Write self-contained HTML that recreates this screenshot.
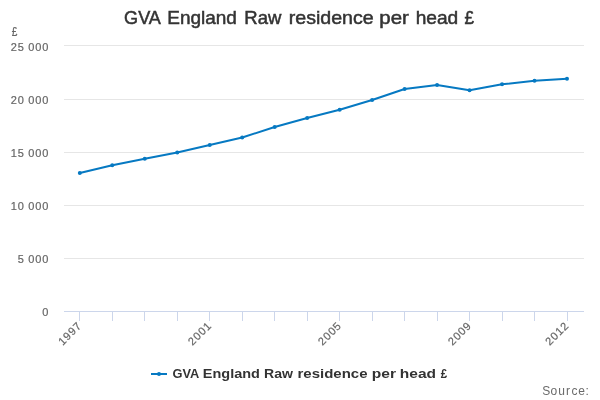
<!DOCTYPE html>
<html><head><meta charset="utf-8"><style>
html,body{margin:0;padding:0;background:#fff;}
svg{display:block;will-change:transform;font-family:"Liberation Sans",sans-serif;}
</style></head><body>
<svg width="600" height="400" viewBox="0 0 600 400">
<rect width="600" height="400" fill="#ffffff"/>
<g font-size="18.5" fill="#333333" stroke="#333333" stroke-width="0.5"><text x="124.1" y="23.5" textLength="36.84" lengthAdjust="spacingAndGlyphs">GVA</text><text x="167.23" y="23.5" textLength="69.71" lengthAdjust="spacingAndGlyphs">England</text><text x="244.27" y="23.5" textLength="37.04" lengthAdjust="spacingAndGlyphs">Raw</text><text x="288.73" y="23.5" textLength="84.97" lengthAdjust="spacingAndGlyphs">residence</text><text x="379.37" y="23.5" textLength="29.54" lengthAdjust="spacingAndGlyphs">per</text><text x="415.66" y="23.5" textLength="42.58" lengthAdjust="spacingAndGlyphs">head</text><text x="464.49" y="23.5" textLength="9.54" lengthAdjust="spacingAndGlyphs">£</text></g>
<path d="M64 45.5 H584 M64 99.5 H584 M64 152.5 H584 M64 205.5 H584 M64 258.5 H584 " stroke="#e6e6e6" stroke-width="1" fill="none"/>
<path d="M64 311.5 H584" stroke="#ccd6eb" stroke-width="1"/>
<path d="M79.5 311 V321 M112.5 311 V321 M144.5 311 V321 M177.5 311 V321 M209.5 311 V321 M242.5 311 V321 M274.5 311 V321 M307.5 311 V321 M339.5 311 V321 M372.5 311 V321 M404.5 311 V321 M437.5 311 V321 M469.5 311 V321 M502.5 311 V321 M534.5 311 V321 M567.5 311 V321 " stroke="#ccd6eb" stroke-width="1"/>
<g font-size="11" fill="#666666" stroke="#666666" stroke-width="0.2">
<text x="11.75" y="36" font-size="12" textLength="5.6" lengthAdjust="spacingAndGlyphs">£</text>
<text transform="translate(48.90,50.50) scale(1.0,1)" x="-38.06 -31.06 -24.06 -20.56 -13.56 -6.56" y="0">25 000</text><text transform="translate(48.90,103.50) scale(1.0,1)" x="-38.06 -31.06 -24.06 -20.56 -13.56 -6.56" y="0">20 000</text><text transform="translate(48.90,156.50) scale(1.0,1)" x="-38.06 -31.06 -24.06 -20.56 -13.56 -6.56" y="0">15 000</text><text transform="translate(48.90,209.50) scale(1.0,1)" x="-38.06 -31.06 -24.06 -20.56 -13.56 -6.56" y="0">10 000</text><text transform="translate(48.90,262.50) scale(1.0,1)" x="-31.06 -24.06 -20.56 -13.56 -6.56" y="0">5 000</text><text transform="translate(48.90,315.50) scale(1.0,1)" x="-6.56" y="0">0</text>
<text transform="translate(82.15,326.50) rotate(-45) scale(1.0,1)" x="-27.56 -20.56 -13.56 -6.56" y="0">1997</text><text transform="translate(212.07,326.50) rotate(-45) scale(1.0,1)" x="-27.56 -20.56 -13.56 -6.56" y="0">2001</text><text transform="translate(341.99,326.50) rotate(-45) scale(1.0,1)" x="-27.56 -20.56 -13.56 -6.56" y="0">2005</text><text transform="translate(471.91,326.50) rotate(-45) scale(1.0,1)" x="-27.56 -20.56 -13.56 -6.56" y="0">2009</text><text transform="translate(569.35,326.50) rotate(-45) scale(1.0,1)" x="-27.56 -20.56 -13.56 -6.56" y="0">2012</text>
</g>
<polyline points="79.80,173.00 112.28,165.30 144.76,158.70 177.24,152.50 209.72,145.00 242.20,137.50 274.68,127.00 307.16,118.00 339.64,109.70 372.12,100.00 404.60,89.00 437.08,85.00 469.56,90.30 502.04,84.30 534.52,80.80 567.00,78.70" fill="none" stroke="#0679c2" stroke-width="2" stroke-linejoin="round" stroke-linecap="round"/>
<g fill="#0679c2"><circle cx="79.80" cy="173.00" r="2"/><circle cx="112.28" cy="165.30" r="2"/><circle cx="144.76" cy="158.70" r="2"/><circle cx="177.24" cy="152.50" r="2"/><circle cx="209.72" cy="145.00" r="2"/><circle cx="242.20" cy="137.50" r="2"/><circle cx="274.68" cy="127.00" r="2"/><circle cx="307.16" cy="118.00" r="2"/><circle cx="339.64" cy="109.70" r="2"/><circle cx="372.12" cy="100.00" r="2"/><circle cx="404.60" cy="89.00" r="2"/><circle cx="437.08" cy="85.00" r="2"/><circle cx="469.56" cy="90.30" r="2"/><circle cx="502.04" cy="84.30" r="2"/><circle cx="534.52" cy="80.80" r="2"/><circle cx="567.00" cy="78.70" r="2"/></g>
<path d="M151 374 H167" stroke="#0679c2" stroke-width="2"/>
<circle cx="159" cy="374" r="2" fill="#0679c2"/>
<g font-size="12.4" font-weight="bold" fill="#333333"><text x="172.49" y="378" textLength="26.83" lengthAdjust="spacingAndGlyphs">GVA</text><text x="202.79" y="378" textLength="57.15" lengthAdjust="spacingAndGlyphs">England</text><text x="264.12" y="378" textLength="28.93" lengthAdjust="spacingAndGlyphs">Raw</text><text x="297.55" y="378" textLength="69.94" lengthAdjust="spacingAndGlyphs">residence</text><text x="371.81" y="378" textLength="24.24" lengthAdjust="spacingAndGlyphs">per</text><text x="399.81" y="378" textLength="36.18" lengthAdjust="spacingAndGlyphs">head</text><text x="440.78" y="378" textLength="6.4" lengthAdjust="spacingAndGlyphs">£</text></g>
<text x="542.26 550.5 558.32 566.0 571.49 578.19 585.6" y="394.8" font-size="12" fill="#6a6a6a">Source:</text>
</svg>
</body></html>
